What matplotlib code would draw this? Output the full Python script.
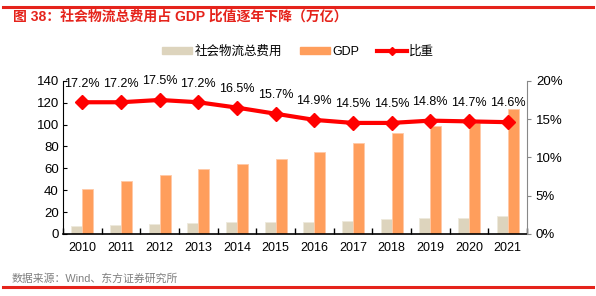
import numpy as np
import matplotlib.pyplot as plt
from matplotlib.lines import Line2D

plt.rcParams['font.family'] = ['Liberation Sans', 'Noto Sans CJK SC']

# Data
years = ['2010', '2011', '2012', '2013', '2014', '2015',
         '2016', '2017', '2018', '2019', '2020', '2021']
logistics = [7.1, 8.4, 9.4, 10.2, 10.6, 10.8, 11.1, 12.1, 13.3, 14.6, 14.9, 16.7]
gdp = [41.2, 48.8, 53.9, 59.3, 64.4, 68.9, 74.6, 83.2, 91.9, 98.7, 101.4, 114.4]
ratio = [17.2, 17.2, 17.5, 17.2, 16.5, 15.7, 14.9, 14.5, 14.5, 14.8, 14.7, 14.6]

c_log = '#DDD4BD'
c_gdp = '#FF9E5C'
c_line = '#FF0000'
c_frame = '#E5231B'

fig = plt.figure(figsize=(5.96, 2.96), dpi=100)
ax = fig.add_axes([0.1057, 0.2095, 0.7783, 0.5175])
ax2 = ax.twinx()

x = np.arange(len(years))
w = 0.285
ax.bar(x - w / 2, logistics, w, color=c_log, edgecolor='#EEE9DC', linewidth=0.6)
ax.bar(x + w / 2, gdp, w, color=c_gdp, edgecolor='#FFC9A6', linewidth=0.6)

ax2.plot(x, ratio, color=c_line, lw=3, marker='D', ms=7.5, zorder=5)
for xi, r in zip(x, ratio):
    ax2.annotate(f'{r:.1f}%', (xi, r), xytext=(0, 13.5), textcoords='offset points',
                 ha='center', va='center', fontsize=9)

ax.set_xlim(-0.5, len(years) - 0.5)
ax.set_ylim(0, 140)
ax.set_yticks(range(0, 141, 20))
ax2.set_ylim(0, 20)
ax2.set_yticks(range(0, 21, 5))
ax2.set_yticklabels([f'{v}%' for v in range(0, 21, 5)])

ax.set_xticks(x)
ax.set_xticklabels(years)
ax.set_xticks(np.arange(-0.5, len(years), 1), minor=True)
ax.tick_params(axis='x', which='major', length=0, labelsize=9, pad=6)
ax.tick_params(axis='x', which='minor', length=4, direction='in', width=1)
ax.tick_params(axis='y', direction='in', length=3, labelsize=9.5, pad=3)
ax2.tick_params(axis='y', direction='out', length=3, labelsize=9.5, colors='#888888', labelcolor='black')

ax.spines['top'].set_visible(False)
ax2.spines['top'].set_visible(False)
ax.spines['right'].set_visible(False)
ax2.spines['left'].set_visible(False)
ax2.spines['bottom'].set_visible(False)
ax2.spines['right'].set_color('#888888')
ax.spines['bottom'].set_linewidth(1.2)

# Legend
handles = [plt.Rectangle((0, 0), 1, 1, color=c_log),
           plt.Rectangle((0, 0), 1, 1, color=c_gdp),
           Line2D([], [], color=c_line, lw=3, marker='D', ms=4)]
fig.legend(handles, ['社会物流总费用', 'GDP', '比重'], loc='center', bbox_to_anchor=(0.5, 0.825),
           ncol=3, frameon=False, fontsize=9, handlelength=2.4, handleheight=0.55,
           handletextpad=0.2, columnspacing=1.4)

# Title, source and frame lines
fig.text(0.021, 0.944, '图 38：社会物流总费用占 GDP 比值逐年下降（万亿）', color=c_frame,
         fontsize=10, fontweight='bold', va='center', ha='left')
fig.text(0.02, 0.058, '数据来源：Wind、东方证券研究所', color='#7F7F7F', fontsize=7.8, va='center', ha='left')
fig.add_artist(Line2D([0.005, 0.995], [0.978, 0.978], color=c_frame, lw=2.2))
fig.add_artist(Line2D([0.005, 0.995], [0.029, 0.029], color=c_frame, lw=2.2))

fig.savefig('out.png', dpi=100)
